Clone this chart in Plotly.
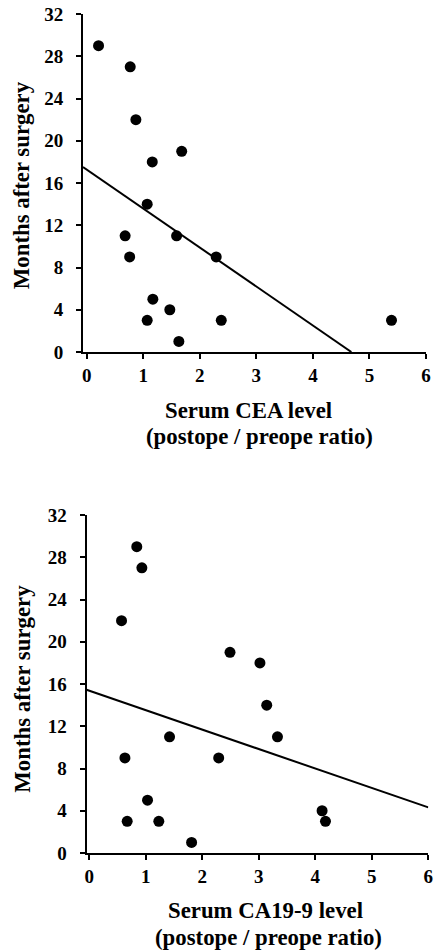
import plotly.graph_objects as go

W, H = 437, 950

# ---- data: top panel (CEA) ----
cea_ratio = [0.21, 0.77, 0.87, 1.16, 1.68, 1.07, 0.68, 1.59, 0.76, 2.29,
             1.17, 1.47, 1.07, 2.38, 5.39, 1.63]
cea_months = [29, 27, 22, 18, 19, 14, 11, 11, 9, 9, 5, 4, 3, 3, 3, 1]
cea_fit = [17.27, -3.69]          # intercept, slope

# ---- data: bottom panel (CA19-9) ----
ca_ratio = [0.84, 0.93, 0.57, 2.49, 3.02, 3.14, 1.42, 3.33, 0.63, 2.29,
            1.03, 4.12, 0.67, 1.23, 4.18, 1.81]
ca_months = [29, 27, 22, 19, 18, 14, 11, 11, 9, 9, 5, 4, 3, 3, 3, 1]
ca_fit = [15.36, -1.84]

y_ticks = [0, 4, 8, 12, 16, 20, 24, 28, 32]
x_ticks = [0, 1, 2, 3, 4, 5, 6]

FONT = "Liberation Serif"
TICKSZ = 19
TITLESZ = 22.8

fig = go.Figure()

def fit_line(fit, x0, x1):
    b, m = fit
    xe = x1
    if m < 0 and -b / m < x1:
        xe = -b / m
    return [x0, xe], [b + m * x0, b + m * xe]

top_xr = [-0.065, 6]
bot_xr = [-0.05, 6]

fig.add_trace(go.Scatter(x=cea_ratio, y=cea_months, mode="markers",
                         marker=dict(size=11, color="black"),
                         xaxis="x", yaxis="y", showlegend=False, cliponaxis=False))
lx, ly = fit_line(cea_fit, top_xr[0], top_xr[1])
fig.add_trace(go.Scatter(x=lx, y=ly, mode="lines", line=dict(color="black", width=2),
                         xaxis="x", yaxis="y", showlegend=False))

fig.add_trace(go.Scatter(x=ca_ratio, y=ca_months, mode="markers",
                         marker=dict(size=11, color="black"),
                         xaxis="x2", yaxis="y2", showlegend=False, cliponaxis=False))
lx, ly = fit_line(ca_fit, bot_xr[0], bot_xr[1])
fig.add_trace(go.Scatter(x=lx, y=ly, mode="lines", line=dict(color="black", width=2),
                         xaxis="x2", yaxis="y2", showlegend=False))

def px(x):
    return x / W

def py(y):
    return 1 - y / H

tickfont = dict(family=FONT, size=TICKSZ, color="black", weight="bold")

xcommon = dict(tickvals=x_ticks, ticktext=[str(v) for v in x_ticks], showline=True,
               linecolor="black", linewidth=2, ticks="outside", ticklen=5, tickwidth=2,
               tickcolor="black", showgrid=False, zeroline=False, tickfont=tickfont,
               ticklabelstandoff=0, automargin=False)
ycommon = dict(tickvals=y_ticks, ticktext=[str(v) for v in y_ticks], showline=True,
               linecolor="black", linewidth=2, ticks="outside", ticklen=5, tickwidth=2,
               tickcolor="black", showgrid=False, zeroline=False, tickfont=tickfont,
               ticklabelstandoff=9, range=[0, 32], automargin=False)

fig.update_layout(
    width=W, height=H,
    margin=dict(l=0, r=0, t=0, b=0),
    paper_bgcolor="white", plot_bgcolor="white",
    xaxis=dict(domain=[px(83), px(426)], range=top_xr, anchor="y", **xcommon),
    yaxis=dict(domain=[py(352), py(14)], anchor="x", **ycommon),
    xaxis2=dict(domain=[px(86.5), px(428.3)], range=bot_xr, anchor="y2", **xcommon),
    yaxis2=dict(domain=[py(853), py(515)], anchor="x2", **ycommon),
)

tfont = dict(family=FONT, size=TITLESZ, color="black", weight="bold")
annots = [
    ("Serum CEA level", 248.8, 410),
    ("(postope / preope ratio)", 259, 437),
    ("Serum CA19-9 level", 265, 910),
    ("(postope / preope ratio)", 268, 937),
]
for text, x, y in annots:
    fig.add_annotation(text=text, x=px(x), y=py(y), xref="paper", yref="paper",
                       xanchor="center", yanchor="middle", showarrow=False, font=tfont)
for y in (185.5, 689):
    fig.add_annotation(text="Months after surgery", x=px(21.7), y=py(y), xref="paper",
                       yref="paper", xanchor="center", yanchor="middle", showarrow=False,
                       textangle=-90, font=tfont)

fig.write_html("out.html")
